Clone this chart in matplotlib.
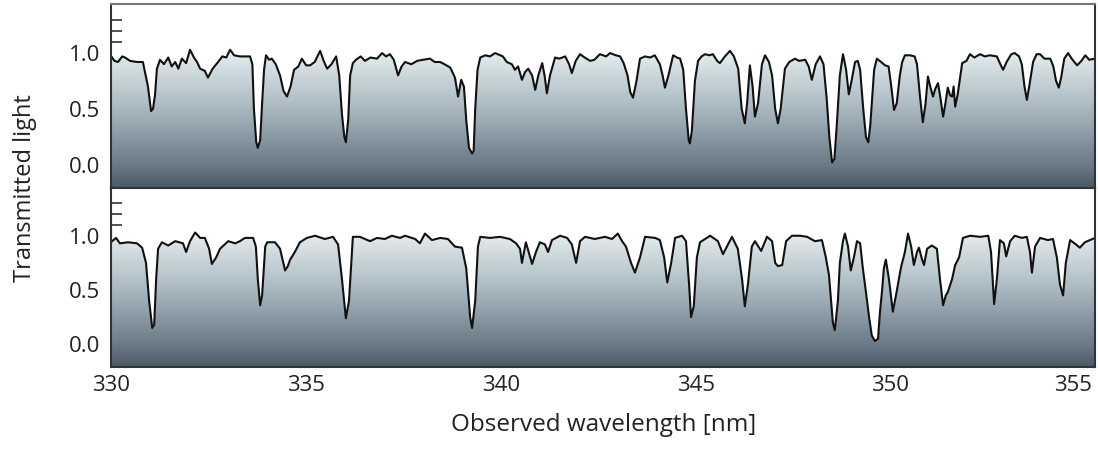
import numpy as np
import matplotlib
matplotlib.use('Agg')
import matplotlib.pyplot as plt
from matplotlib.colors import LinearSegmentedColormap
from matplotlib.ticker import FixedLocator
from matplotlib.transforms import ScaledTranslation

plt.rcParams['font.family'] = ['Open Sans', 'DejaVu Sans']

# spectrum 1 (upper panel): wavelength [nm], transmitted flux
wl_top = [330.00, 330.08, 330.17, 330.28, 330.35, 330.48, 330.66, 330.81, 330.94, 331.02,
          331.07, 331.12, 331.17, 331.25, 331.35, 331.46, 331.55, 331.64, 331.72, 331.81,
          331.92, 332.02, 332.12, 332.20, 332.28, 332.40, 332.48, 332.60, 332.74, 332.85,
          332.95, 333.05, 333.15, 333.30, 333.45, 333.56, 333.62, 333.66, 333.72, 333.76,
          333.82, 333.87, 333.92, 333.97, 334.05, 334.12, 334.22, 334.33, 334.42, 334.51,
          334.60, 334.69, 334.80, 334.89, 335.00, 335.10, 335.22, 335.36, 335.45, 335.54,
          335.65, 335.77, 335.85, 335.92, 335.98, 336.02, 336.08, 336.13, 336.20, 336.28,
          336.40, 336.51, 336.65, 336.82, 336.95, 337.05, 337.15, 337.25, 337.36, 337.45,
          337.54, 337.70, 337.85, 338.00, 338.18, 338.30, 338.44, 338.55, 338.70, 338.82,
          338.90, 338.98, 339.05, 339.11, 339.18, 339.26, 339.30, 339.34, 339.40, 339.47,
          339.60, 339.72, 339.85, 340.05, 340.15, 340.28, 340.36, 340.44, 340.54, 340.62,
          340.70, 340.80, 340.88, 340.96, 341.06, 341.12, 341.18, 341.26, 341.39, 341.50,
          341.65, 341.75, 341.82, 341.92, 342.03, 342.15, 342.29, 342.40, 342.54, 342.70,
          342.80, 342.95, 343.06, 343.15, 343.25, 343.32, 343.39, 343.48, 343.57, 343.70,
          343.83, 343.95, 344.08, 344.15, 344.21, 344.30, 344.42, 344.52, 344.60, 344.68,
          344.75, 344.82, 344.85, 344.90, 344.98, 345.06, 345.15, 345.24, 345.35, 345.44,
          345.55, 345.62, 345.75, 345.88, 345.98, 346.09, 346.18, 346.26, 346.32, 346.39,
          346.46, 346.52, 346.60, 346.70, 346.78, 346.88, 346.96, 347.04, 347.11, 347.18,
          347.29, 347.40, 347.55, 347.65, 347.81, 347.90, 347.98, 348.08, 348.19, 348.28,
          348.36, 348.43, 348.50, 348.56, 348.62, 348.70, 348.78, 348.86, 348.93, 349.00,
          349.09, 349.16, 349.22, 349.30, 349.37, 349.43, 349.48, 349.58, 349.65, 349.76,
          349.86, 349.95, 350.02, 350.09, 350.16, 350.24, 350.30, 350.37, 350.50, 350.62,
          350.68, 350.76, 350.83, 350.90, 350.96, 351.02, 351.09, 351.15, 351.22, 351.28,
          351.35, 351.41, 351.47, 351.53, 351.58, 351.62, 351.66, 351.72, 351.84, 351.95,
          352.04, 352.15, 352.30, 352.42, 352.55, 352.73, 352.82, 352.89, 352.98, 353.10,
          353.19, 353.30, 353.37, 353.44, 353.50, 353.56, 353.66, 353.75, 353.84, 353.95,
          354.10, 354.18, 354.25, 354.32, 354.38, 354.46, 354.56, 354.65, 354.79, 354.90,
          355.00, 355.10, 355.25]
fl_top = [0.97, 0.93, 0.92, 0.97, 0.96, 0.93, 0.92, 0.92, 0.70, 0.48,
          0.50, 0.62, 0.86, 0.94, 0.90, 0.96, 0.88, 0.92, 0.86, 0.95,
          0.91, 1.03, 0.96, 0.92, 0.86, 0.84, 0.78, 0.86, 0.92, 0.97,
          0.96, 1.03, 0.98, 0.97, 0.97, 0.97, 0.90, 0.50, 0.20, 0.15,
          0.22, 0.55, 0.85, 0.98, 0.94, 0.95, 0.90, 0.80, 0.66, 0.61,
          0.70, 0.85, 0.88, 0.95, 0.89, 0.89, 0.92, 1.02, 0.93, 0.86,
          0.90, 0.97, 0.80, 0.45, 0.25, 0.20, 0.40, 0.80, 0.91, 0.94,
          0.97, 0.93, 0.96, 0.95, 1.00, 0.97, 0.99, 0.94, 0.80, 0.88,
          0.92, 0.90, 0.93, 0.94, 0.95, 0.92, 0.92, 0.90, 0.87, 0.78,
          0.61, 0.76, 0.70, 0.40, 0.15, 0.10, 0.12, 0.50, 0.85, 0.96,
          0.98, 0.97, 1.00, 0.97, 0.92, 0.90, 0.85, 0.88, 0.76, 0.83,
          0.86, 0.80, 0.67, 0.80, 0.91, 0.80, 0.64, 0.80, 0.96, 0.95,
          0.97, 0.90, 0.82, 0.93, 0.99, 0.96, 0.93, 0.94, 0.99, 0.97,
          1.00, 0.98, 0.97, 0.91, 0.80, 0.65, 0.60, 0.75, 0.95, 0.97,
          0.96, 0.98, 0.90, 0.80, 0.69, 0.80, 0.98, 0.96, 0.95, 0.85,
          0.50, 0.22, 0.19, 0.30, 0.75, 0.93, 0.97, 0.99, 0.98, 0.99,
          0.93, 0.91, 0.97, 1.02, 0.97, 0.86, 0.50, 0.37, 0.55, 0.89,
          0.70, 0.43, 0.55, 0.90, 0.98, 0.92, 0.80, 0.50, 0.37, 0.50,
          0.86, 0.92, 0.95, 0.93, 0.94, 0.88, 0.76, 0.90, 0.97, 0.90,
          0.60, 0.25, 0.02, 0.05, 0.35, 0.80, 0.99, 0.85, 0.63, 0.75,
          0.92, 0.93, 0.85, 0.50, 0.25, 0.20, 0.35, 0.85, 0.95, 0.92,
          0.89, 0.88, 0.70, 0.49, 0.55, 0.80, 0.92, 0.98, 0.98, 0.97,
          0.90, 0.60, 0.38, 0.55, 0.79, 0.70, 0.61, 0.68, 0.73, 0.60,
          0.43, 0.55, 0.69, 0.62, 0.61, 0.70, 0.52, 0.62, 0.91, 0.93,
          0.99, 0.96, 0.99, 0.97, 0.98, 0.97, 0.90, 0.85, 0.92, 0.99,
          1.00, 0.97, 0.90, 0.70, 0.58, 0.70, 0.92, 0.99, 0.99, 0.95,
          0.95, 0.88, 0.75, 0.69, 0.78, 0.95, 1.00, 0.95, 0.89, 0.93,
          0.98, 0.94, 0.95]

# spectrum 2 (lower panel)
wl_bot = [330.02, 330.12, 330.22, 330.43, 330.66, 330.79, 330.89, 330.97, 331.05, 331.10,
          331.15, 331.20, 331.30, 331.46, 331.64, 331.84, 331.92, 332.02, 332.15, 332.28,
          332.40, 332.51, 332.58, 332.69, 332.79, 333.00, 333.18, 333.30, 333.43, 333.64,
          333.71, 333.76, 333.82, 333.87, 333.95, 334.00, 334.20, 334.33, 334.46, 334.53,
          334.59, 334.71, 334.84, 335.02, 335.23, 335.48, 335.69, 335.82, 335.92, 336.02,
          336.10, 336.20, 336.38, 336.51, 336.64, 336.82, 337.02, 337.20, 337.41, 337.54,
          337.80, 337.92, 338.05, 338.23, 338.44, 338.64, 338.82, 339.00, 339.11, 339.21,
          339.26, 339.34, 339.41, 339.47, 339.72, 339.98, 340.23, 340.39, 340.49, 340.54,
          340.64, 340.75, 340.80, 340.90, 341.00, 341.13, 341.21, 341.31, 341.52, 341.70,
          341.82, 341.93, 342.03, 342.16, 342.41, 342.67, 342.85, 343.00, 343.11, 343.21,
          343.34, 343.44, 343.57, 343.70, 343.96, 344.08, 344.19, 344.27, 344.37, 344.47,
          344.65, 344.75, 344.83, 344.88, 344.95, 345.03, 345.11, 345.37, 345.57, 345.70,
          345.83, 345.93, 346.08, 346.19, 346.26, 346.34, 346.44, 346.52, 346.68, 346.83,
          346.96, 347.04, 347.11, 347.22, 347.32, 347.47, 347.68, 347.86, 348.06, 348.24,
          348.34, 348.42, 348.52, 348.57, 348.65, 348.70, 348.78, 348.83, 348.91, 348.98,
          349.06, 349.14, 349.22, 349.29, 349.37, 349.45, 349.52, 349.60, 349.68, 349.73,
          349.78, 349.83, 349.88, 349.96, 350.06, 350.14, 350.27, 350.37, 350.45, 350.53,
          350.60, 350.68, 350.73, 350.81, 350.86, 350.94, 351.06, 351.19, 351.27, 351.35,
          351.42, 351.47, 351.58, 351.66, 351.76, 351.86, 352.04, 352.30, 352.51, 352.58,
          352.66, 352.73, 352.81, 352.91, 352.97, 353.07, 353.19, 353.37, 353.50, 353.58,
          353.63, 353.71, 353.84, 354.04, 354.17, 354.27, 354.35, 354.43, 354.50, 354.61,
          354.76, 354.86, 354.99, 355.12, 355.25]
fl_bot = [0.95, 0.98, 0.93, 0.94, 0.93, 0.89, 0.75, 0.40, 0.15, 0.18,
          0.60, 0.88, 0.94, 0.91, 0.95, 0.93, 0.85, 0.95, 1.03, 0.98,
          0.98, 0.88, 0.74, 0.80, 0.88, 0.95, 0.93, 0.95, 0.98, 0.98,
          0.90, 0.60, 0.36, 0.45, 0.90, 0.94, 0.94, 0.88, 0.68, 0.72,
          0.78, 0.85, 0.94, 0.98, 1.00, 0.97, 0.99, 0.92, 0.60, 0.24,
          0.40, 0.99, 0.99, 0.97, 0.95, 0.98, 0.97, 1.00, 0.98, 1.00,
          0.97, 0.93, 1.02, 0.96, 0.98, 0.97, 0.90, 0.89, 0.70, 0.25,
          0.15, 0.40, 0.90, 0.99, 0.98, 0.99, 0.97, 0.93, 0.88, 0.75,
          0.94, 0.80, 0.74, 0.85, 0.94, 0.92, 0.85, 0.96, 1.00, 0.98,
          0.92, 0.75, 0.95, 0.99, 0.97, 0.99, 0.97, 1.02, 0.95, 0.90,
          0.75, 0.66, 0.80, 0.99, 0.98, 0.96, 0.80, 0.57, 0.75, 0.98,
          1.00, 0.95, 0.55, 0.25, 0.35, 0.80, 0.94, 1.00, 0.95, 0.83,
          0.92, 0.99, 0.88, 0.60, 0.35, 0.55, 0.90, 0.95, 0.86, 0.99,
          0.95, 0.75, 0.72, 0.73, 0.95, 1.00, 1.00, 0.99, 0.95, 0.96,
          0.80, 0.64, 0.20, 0.13, 0.40, 0.75, 0.95, 1.02, 0.90, 0.68,
          0.80, 0.95, 0.93, 0.70, 0.48, 0.25, 0.08, 0.03, 0.05, 0.30,
          0.48, 0.70, 0.78, 0.60, 0.30, 0.45, 0.71, 0.85, 1.02, 0.90,
          0.73, 0.85, 0.89, 0.78, 0.73, 0.88, 0.91, 0.88, 0.60, 0.36,
          0.45, 0.48, 0.60, 0.73, 0.80, 0.98, 1.00, 0.99, 1.00, 0.85,
          0.37, 0.60, 0.96, 0.93, 0.81, 0.95, 1.00, 0.98, 0.99, 0.85,
          0.66, 0.90, 0.98, 0.96, 0.97, 0.80, 0.55, 0.45, 0.75, 0.96,
          0.92, 0.89, 0.94, 0.96, 0.98]

xticks = [330, 335, 340, 345, 350, 355]
yticks = [0.0, 0.5, 1.0]
yminor = [1.1, 1.2, 1.3]

x0, x1 = 330.0, 355.25
y0, y1 = -0.21, 1.44

cmap = LinearSegmentedColormap.from_list('slate', [
    (0.0, '#4a5966'),
    ((0.0 - y0) / (y1 - y0), '#6b7b87'),
    ((0.5 - y0) / (y1 - y0), '#a9b8c0'),
    ((1.0 - y0) / (y1 - y0), '#e4ecee'),
    ((1.15 - y0) / (y1 - y0), '#f6f9f9'),
    (1.0, '#ffffff')])
grad = np.linspace(0, 1, 256).reshape(-1, 1)

fig = plt.figure(figsize=(10.98, 4.5), dpi=100)
ax_top = fig.add_axes([0.1014, 0.5822, 0.8959, 0.4089])
ax_bot = fig.add_axes([0.1014, 0.1844, 0.8959, 0.3978])

for ax, wl, fl in [(ax_top, wl_top, fl_top), (ax_bot, wl_bot, fl_bot)]:
    ax.imshow(grad, extent=[x0, x1, y0, y1], origin='lower', aspect='auto',
              cmap=cmap, zorder=0, interpolation='bicubic')
    ax.fill_between(wl, fl, y1, color='white', lw=0, zorder=1)
    ax.plot(wl, fl, color='#111111', lw=1.5, zorder=2)
    ax.set_xlim(x0, x1)
    ax.set_ylim(y0, y1)
    ax.set_yticks(yticks)
    ax.set_yticklabels(['0.0', '0.5', '1.0'])
    ax.yaxis.set_minor_locator(FixedLocator(yminor))
    ax.tick_params(axis='y', which='major', length=0, pad=8, labelsize=16, colors='#222222')
    ax.tick_params(axis='y', which='minor', direction='in', length=8, width=1.2, color='#333333')
    for s in ax.spines.values():
        s.set_color('#333333')
        s.set_linewidth(1.5)
        s.set_zorder(3)

ax_top.spines['top'].set_color('#777777')
ax_top.set_xticks([])
ax_bot.set_xticks(xticks)
ax_bot.tick_params(axis='x', length=0, pad=6, labelsize=16, colors='#222222')
# last label sits inside the frame in the original
last = ax_bot.get_xticklabels()[-1]
last.set_transform(last.get_transform() + ScaledTranslation(-0.12, 0, fig.dpi_scale_trans))
ax_bot.set_xlabel('Observed wavelength [nm]', fontsize=17.5, color='#222222', labelpad=12)
fig.text(0.023, 0.582, 'Transmitted light', rotation=90, ha='center', va='center',
         fontsize=17, color='#222222')

fig.savefig('out.png', dpi=100)
